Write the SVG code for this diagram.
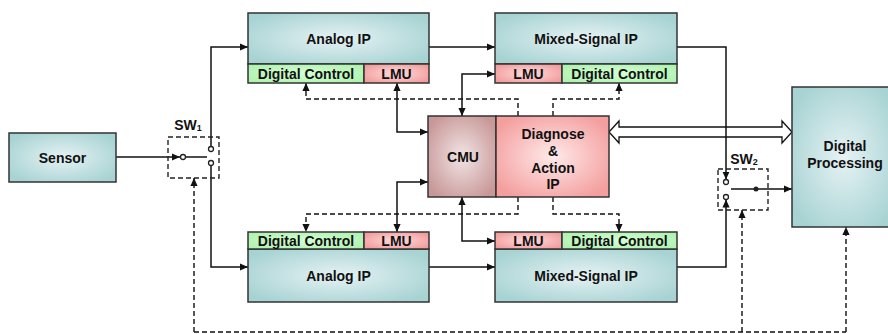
<svg xmlns="http://www.w3.org/2000/svg" width="888" height="334" viewBox="0 0 888 334">
<style>
text{font-family:"Liberation Sans",Arial,sans-serif;font-weight:bold;font-size:14px;fill:#111;text-anchor:middle;dominant-baseline:central}
.box{stroke:#333;stroke-width:1.5}
.teal{fill:url(#gTeal)}
.green{fill:url(#gGreen)}
.lmu{fill:url(#gLmu)}
.cmu{fill:url(#gCmu)}
.diag{fill:url(#gDiag)}
.ln{fill:none;stroke:#111;stroke-width:1.5}
.ar{marker-end:url(#ah)}
.ar2{marker-start:url(#ah);marker-end:url(#ah)}
.ds{fill:none;stroke:#111;stroke-width:1.4;stroke-dasharray:5 3}
.sw{fill:none;stroke:#222;stroke-width:1.4;stroke-dasharray:5 3}
.pin{fill:#fff;stroke:#222;stroke-width:1.3}
</style>
<defs>
<radialGradient id="gTeal" cx="50%" cy="50%" r="60%"><stop offset="0" stop-color="#e6f2f4"/><stop offset="1" stop-color="#a8d3d3"/></radialGradient>
<radialGradient id="gGreen" cx="50%" cy="50%" r="60%"><stop offset="0" stop-color="#d4ffd4"/><stop offset="1" stop-color="#b0f2b0"/></radialGradient>
<radialGradient id="gLmu" cx="50%" cy="50%" r="60%"><stop offset="0" stop-color="#ffdcdc"/><stop offset="1" stop-color="#f29c9c"/></radialGradient>
<radialGradient id="gCmu" cx="50%" cy="50%" r="60%"><stop offset="0" stop-color="#f2e4e4"/><stop offset="1" stop-color="#c89898"/></radialGradient>
<radialGradient id="gDiag" cx="50%" cy="50%" r="60%"><stop offset="0" stop-color="#ffeaea"/><stop offset="1" stop-color="#f49e9e"/></radialGradient>
<marker id="ah" viewBox="0 0 10 10" refX="10" refY="5" markerWidth="8" markerHeight="8" markerUnits="userSpaceOnUse" orient="auto-start-reverse"><path d="M0,0.5 L10,5 L0,9.5 z" fill="#111"/></marker>
</defs>

<g id="connectors">
<polygon points="609,132 619,121 619,127 782,127 782,121 792,132 782,143 782,137 619,137 619,143" fill="#fff" stroke="#111" stroke-width="1.3"/>
<path class="ln ar" d="M116,157 H180"/>
<path class="ln" d="M185.5,157 H207"/>
<path class="ln ar" d="M211,146.5 V47 H248"/>
<path class="ln ar" d="M211,165.5 V267 H248"/>
<path class="ln ar" d="M429,47 H495"/>
<path class="ln ar" d="M429,267 H495"/>
<path class="ln ar" d="M677,47 H726 V179.5"/>
<path class="ln ar" d="M677,267 H726 V199.5"/>
<path class="ln ar" d="M731,189 H792"/>
<path class="ln ar2" d="M397,83 V132 H428"/>
<path class="ln ar2" d="M495,74 H462 V116"/>
<path class="ln ar2" d="M428,182 H397 V232"/>
<path class="ln ar2" d="M462,197 V241 H495"/>
<path class="ds ar" d="M518,116 V99 H306 V83"/>
<path class="ds ar" d="M553,116 V99 H619 V83"/>
<path class="ds ar" d="M518,197 V214 H306 V232"/>
<path class="ds ar" d="M553,197 V214 H619 V232"/>
<path class="ds ar" d="M194,332 V178"/>
<path class="ds" d="M194,332 H846" stroke="#777"/>
<path class="ds ar" d="M846,332 V227"/>
<path class="ds ar" d="M742,332 V210"/>
</g>

<g id="sensor">
<rect class="box teal" x="9" y="133" width="107" height="49"/>
<text x="62.5" y="157.5">Sensor</text>
</g>

<g id="analog-ip-top">
<rect class="box teal" x="248" y="13" width="181" height="51"/>
<rect class="box green" x="248" y="64" width="116" height="19"/>
<rect class="box lmu" x="364" y="64" width="65" height="19"/>
<text x="338.5" y="38.5">Analog IP</text>
<text x="306" y="73.5">Digital Control</text>
<text x="396.5" y="73.5">LMU</text>
</g>

<g id="mixed-ip-top">
<rect class="box teal" x="495" y="13" width="182" height="51"/>
<rect class="box lmu" x="495" y="64" width="67" height="19"/>
<rect class="box green" x="562" y="64" width="115" height="19"/>
<text x="586" y="38.5">Mixed-Signal IP</text>
<text x="528.5" y="73.5">LMU</text>
<text x="619.5" y="73.5">Digital Control</text>
</g>

<g id="analog-ip-bottom">
<rect class="box teal" x="248" y="249" width="181" height="53"/>
<rect class="box green" x="248" y="232" width="116" height="17"/>
<rect class="box lmu" x="364" y="232" width="65" height="17"/>
<text x="338.5" y="276">Analog IP</text>
<text x="306" y="240.5">Digital Control</text>
<text x="396.5" y="240.5">LMU</text>
</g>

<g id="mixed-ip-bottom">
<rect class="box teal" x="495" y="249" width="182" height="53"/>
<rect class="box lmu" x="495" y="232" width="67" height="17"/>
<rect class="box green" x="562" y="232" width="115" height="17"/>
<text x="586" y="276">Mixed-Signal IP</text>
<text x="528.5" y="240.5">LMU</text>
<text x="619.5" y="240.5">Digital Control</text>
</g>

<g id="cmu">
<rect class="box cmu" x="428" y="116" width="68" height="81"/>
<text x="463" y="156.5">CMU</text>
</g>

<g id="diagnose">
<rect class="box diag" x="496" y="116" width="113" height="81"/>
<text x="553" y="134">Diagnose</text>
<text x="553" y="151">&amp;</text>
<text x="553" y="168">Action</text>
<text x="553" y="184">IP</text>
</g>

<g id="digital-processing">
<rect class="box teal" x="792" y="87" width="104" height="140"/>
<text x="845" y="146">Digital</text>
<text x="845" y="163">Processing</text>
</g>

<g id="sw1">
<rect class="sw" x="168" y="137" width="51" height="41"/>
<circle class="pin" cx="183" cy="157" r="2.5"/>
<circle class="pin" cx="211" cy="149" r="2.5"/>
<circle class="pin" cx="211" cy="163" r="2.5"/>
<text x="188" y="125">SW<tspan font-size="9" dy="3">1</tspan></text>
</g>

<g id="sw2">
<rect class="sw" x="718" y="169" width="50" height="41"/>
<circle class="pin" cx="726" cy="182" r="2.5"/>
<circle class="pin" cx="726" cy="197" r="2.5"/>
<circle cx="756" cy="189" r="2.5" fill="#222"/>
<text x="744" y="159">SW<tspan font-size="9" dy="3">2</tspan></text>
</g>
</svg>
